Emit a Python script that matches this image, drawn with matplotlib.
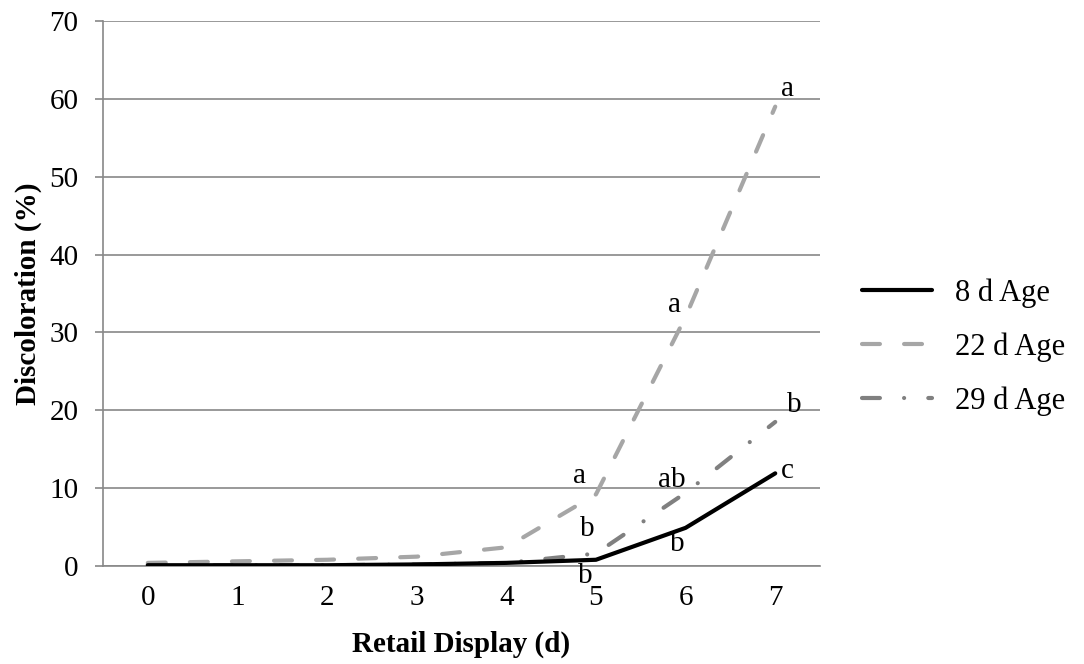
#!/usr/bin/env python3
import matplotlib
matplotlib.use("Agg")
import matplotlib.pyplot as plt

# retail display day (category axis)
days = [0, 1, 2, 3, 4, 5, 6, 7]

# discoloration (%) per aging period
age8 = [0.1, 0.1, 0.1, 0.2, 0.4, 0.8, 4.9, 11.9]
age22 = [0.4, 0.6, 0.8, 1.2, 2.4, 9.2, 32.0, 59.0]
age29 = [0.1, 0.1, 0.1, 0.2, 0.4, 1.6, 9.4, 18.5]

series_names = ["8 d Age", "22 d Age", "29 d Age"]

# significance letters: (day, letter)
letters8 = [(5, "b"), (6, "b"), (7, "c")]
letters22 = [(5, "a"), (6, "a"), (7, "a")]
letters29 = [(5, "b"), (6, "ab"), (7, "b")]

plt.rcParams["font.family"] = ["Liberation Serif", "DejaVu Serif"]

fig = plt.figure(figsize=(10.84, 6.64), dpi=100)
ax = fig.add_axes([0.095, 0.1476, 0.6615, 0.8208])

ax.plot(days, age8, color="black", lw=3, solid_capstyle="round",
        label=series_names[0], zorder=4)
ax.plot(days, age22, color="#a6a6a6", lw=3, dashes=(4.3, 5.8),
        dash_capstyle="round", label=series_names[1], zorder=3)
ax.plot(days, age29, color="#808080", lw=3, dashes=(4.3, 5.8, 0.01, 5.8),
        dash_capstyle="round", label=series_names[2], zorder=3)

fs = 21
# letter annotations, offsets in points
for d, t in letters22:
    off = {5: (-12, 4), 6: (-8, -1), 7: (9, 3)}[d]
    ax.annotate(t, (d, age22[d]), xytext=off, textcoords="offset points",
                ha="center", va="bottom", fontsize=fs)
for d, t in letters29:
    off = {5: (-6, 8), 6: (-10, 0), 7: (14, 3)}[d]
    ax.annotate(t, (d, age29[d]), xytext=off, textcoords="offset points",
                ha="center", va="bottom", fontsize=fs)
for d, t in letters8:
    off = {5: (-8, -2), 6: (-6, -2), 7: (9, 2)}[d]
    va = "top" if d < 7 else "center"
    ax.annotate(t, (d, age8[d]), xytext=off, textcoords="offset points",
                ha="center", va=va, fontsize=fs)

ax.set_xlim(-0.5, 7.5)
ax.set_ylim(0, 70)
ax.set_xticks(days)
ax.set_yticks(range(0, 71, 10))
ax.tick_params(axis="x", length=0, labelsize=fs, pad=14)
ax.tick_params(axis="y", length=5.8, width=1.2, color="#888888", labelsize=fs, pad=12)
ax.yaxis.grid(True, color="#888888", lw=1.2)
ax.set_axisbelow(True)
for s in ["top", "right"]:
    ax.spines[s].set_visible(False)
for s in ["left", "bottom"]:
    ax.spines[s].set_color("#888888")
    ax.spines[s].set_linewidth(1.2)

ax.set_xlabel("Retail Display (d)", fontsize=fs, fontweight="bold", labelpad=14)
ax.set_ylabel("Discoloration (%)", fontsize=fs, fontweight="bold", labelpad=5)

ax.legend(loc="center left", bbox_to_anchor=(0.781, 0.477),
          bbox_transform=fig.transFigure, frameon=False, borderpad=0,
          fontsize=22, handlelength=2.3, labelspacing=0.8, handletextpad=0.75)

fig.savefig("out.png", dpi=100)
